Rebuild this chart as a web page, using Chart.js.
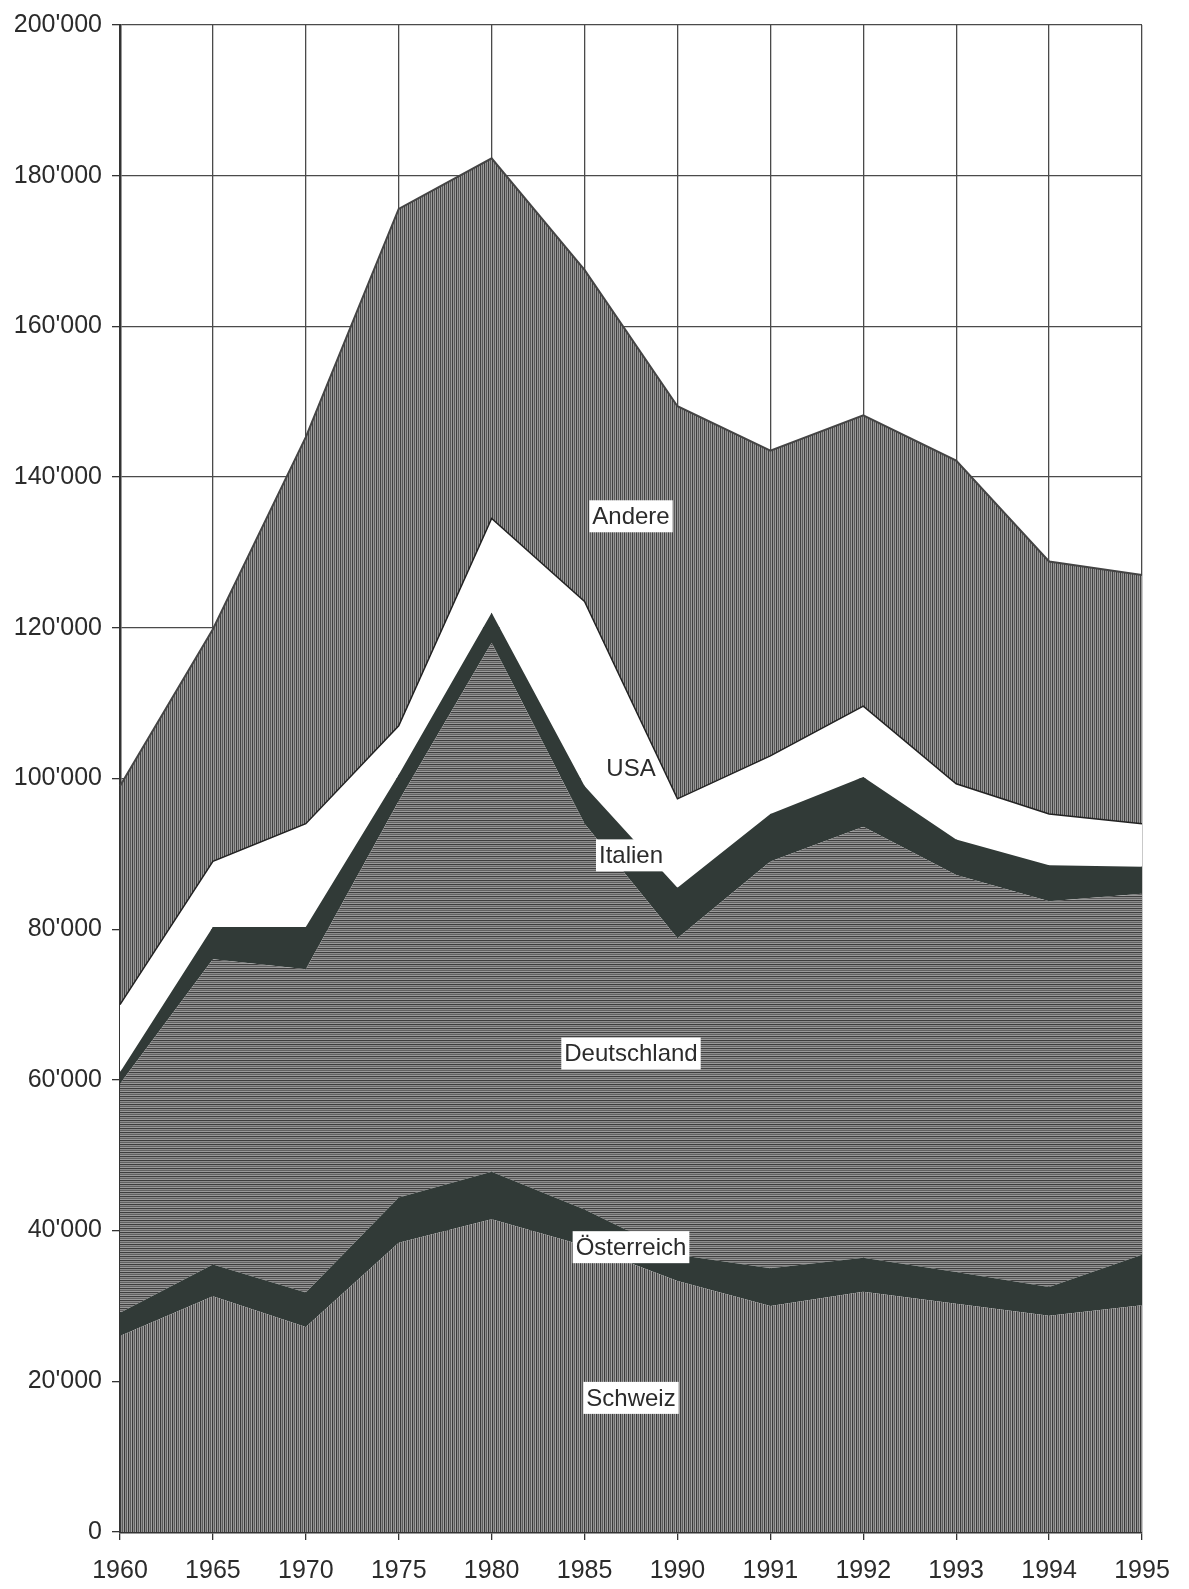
<!DOCTYPE html>
<html>
<head>
  <title>Stacked area by country</title>
  <meta charset="UTF-8">
  <script src="https://cdn.jsdelivr.net/npm/chart.js"></script>
  <style>
    body {
      margin: 0;
      padding: 0;
      background-color: white;
    }
    .chart-container {
      width: 1189px;
      height: 1589px;
    }
  </style>
</head>
<body>
  <div class="chart-container">
    <canvas id="areaChart" width="1189" height="1589"></canvas>
  </div>

  <script>
    // Data (values in persons, stacked bottom to top)
    const years = ['1960', '1965', '1970', '1975', '1980', '1985', '1990', '1991', '1992', '1993', '1994', '1995'];
    const schweiz     = [26000, 31300, 27200, 38400, 41500, 38000, 33300, 30000, 31900, 30300, 28700, 30100];
    const oesterreich = [3100, 4200, 4600, 6000, 6300, 4800, 3500, 5000, 4500, 4200, 3800, 6700];
    const deutschland = [30400, 40500, 42900, 52600, 70200, 51200, 42000, 54000, 57200, 52700, 51200, 47900];
    const italien     = [1500, 4300, 5600, 3500, 4000, 5000, 6700, 6300, 6600, 4700, 4800, 3600];
    const usa         = [9000, 8700, 13700, 6500, 12500, 24500, 11800, 7700, 9400, 7400, 6800, 5700];
    const andere      = [29000, 30800, 51300, 68600, 47800, 44000, 52100, 40500, 38600, 42900, 33500, 33000];

    // In-chart labels: text, category position, value
    const labelTexts  = ['Andere', 'USA', 'Italien', 'Deutschland', 'Österreich', 'Schweiz'];
    const labelX      = [5.5, 5.5, 5.5, 5.5, 5.5, 5.5];
    const labelY      = [134800, 101300, 89800, 63500, 37800, 17800];
    const labelBoxed  = [true, false, true, true, true, true];

    const fontFamily = '"Liberation Sans", Arial, Helvetica, sans-serif';
    const textColor = '#2b2b2b';
    const darkBand = '#313a37';

    // striped fills imitating the scanned hatching
    function stripes(colors, vertical) {
      const c = document.createElement('canvas');
      c.width = vertical ? colors.length : 1;
      c.height = vertical ? 1 : colors.length;
      const g = c.getContext('2d');
      colors.forEach((col, i) => {
        g.fillStyle = col;
        if (vertical) g.fillRect(i, 0, 1, 1);
        else g.fillRect(0, i, 1, 1);
      });
      return g.createPattern(c, 'repeat');
    }

    const ctx = document.getElementById('areaChart').getContext('2d');
    const vStripe = stripes(['#3a3a3a', '#8e8e8e', '#5c5c5c', '#a2a2a2'], true);
    const vStripe2 = stripes(['#404040', '#959595', '#5a5a5a', '#9c9c9c'], true);
    const hStripe = stripes(['#3e3e3e', '#8c8c8c', '#626262', '#9a9a9a'], false);

    const areaLabels = {
      id: 'areaLabels',
      afterDatasetsDraw(chart) {
        const c = chart.ctx;
        const xs = chart.scales.x, ys = chart.scales.y;
        c.save();
        c.font = '24px ' + fontFamily;
        c.textAlign = 'center';
        c.textBaseline = 'middle';
        labelTexts.forEach((t, i) => {
          const px = xs.getPixelForValue(labelX[i]);
          const py = ys.getPixelForValue(labelY[i]);
          const w = c.measureText(t).width + 6;
          if (labelBoxed[i]) {
            c.fillStyle = 'white';
            c.fillRect(px - w / 2, py - 16, w, 32);
          }
          c.fillStyle = textColor;
          c.fillText(t, px, py + 1);
        });
        c.restore();
      }
    };

    new Chart(ctx, {
      type: 'line',
      data: {
        labels: years,
        datasets: [
          { label: 'Schweiz', data: schweiz, fill: 'origin', backgroundColor: vStripe, borderWidth: 0 },
          { label: 'Österreich', data: oesterreich, fill: '-1', backgroundColor: darkBand, borderWidth: 0 },
          { label: 'Deutschland', data: deutschland, fill: '-1', backgroundColor: hStripe, borderWidth: 0 },
          { label: 'Italien', data: italien, fill: '-1', backgroundColor: darkBand, borderWidth: 0 },
          { label: 'USA', data: usa, fill: '-1', backgroundColor: 'white', borderColor: '#222', borderWidth: 1.5 },
          { label: 'Andere', data: andere, fill: '-1', backgroundColor: vStripe2, borderColor: '#444', borderWidth: 2 }
        ]
      },
      options: {
        responsive: false,
        animation: false,
        elements: { point: { radius: 0 }, line: { tension: 0 } },
        layout: { padding: { top: 21, right: 47, left: 0, bottom: 0 } },
        plugins: {
          legend: { display: false },
          tooltip: { enabled: false }
        },
        scales: {
          x: {
            offset: false,
            grid: { color: '#4a4a4a', lineWidth: 1.3, tickLength: 8, tickColor: '#333' },
            border: { color: '#333', width: 2.5 },
            ticks: {
              color: textColor,
              font: { family: fontFamily, size: 25 },
              padding: 16,
              maxRotation: 0,
              autoSkip: false
            },
            afterFit(scale) { scale.height = 57; }
          },
          y: {
            stacked: true,
            min: 0,
            max: 200000,
            grid: { color: '#4a4a4a', lineWidth: 1.3, tickLength: 8, tickColor: '#333' },
            border: { color: '#333', width: 2.5 },
            ticks: {
              stepSize: 20000,
              color: textColor,
              font: { family: fontFamily, size: 25 },
              padding: 10,
              callback: function(value) {
                return String(value).replace(/\B(?=(\d{3})+(?!\d))/g, "'");
              }
            },
            afterFit(scale) { scale.width = 120; }
          }
        }
      },
      plugins: [areaLabels]
    });
  </script>
</body>
</html>
